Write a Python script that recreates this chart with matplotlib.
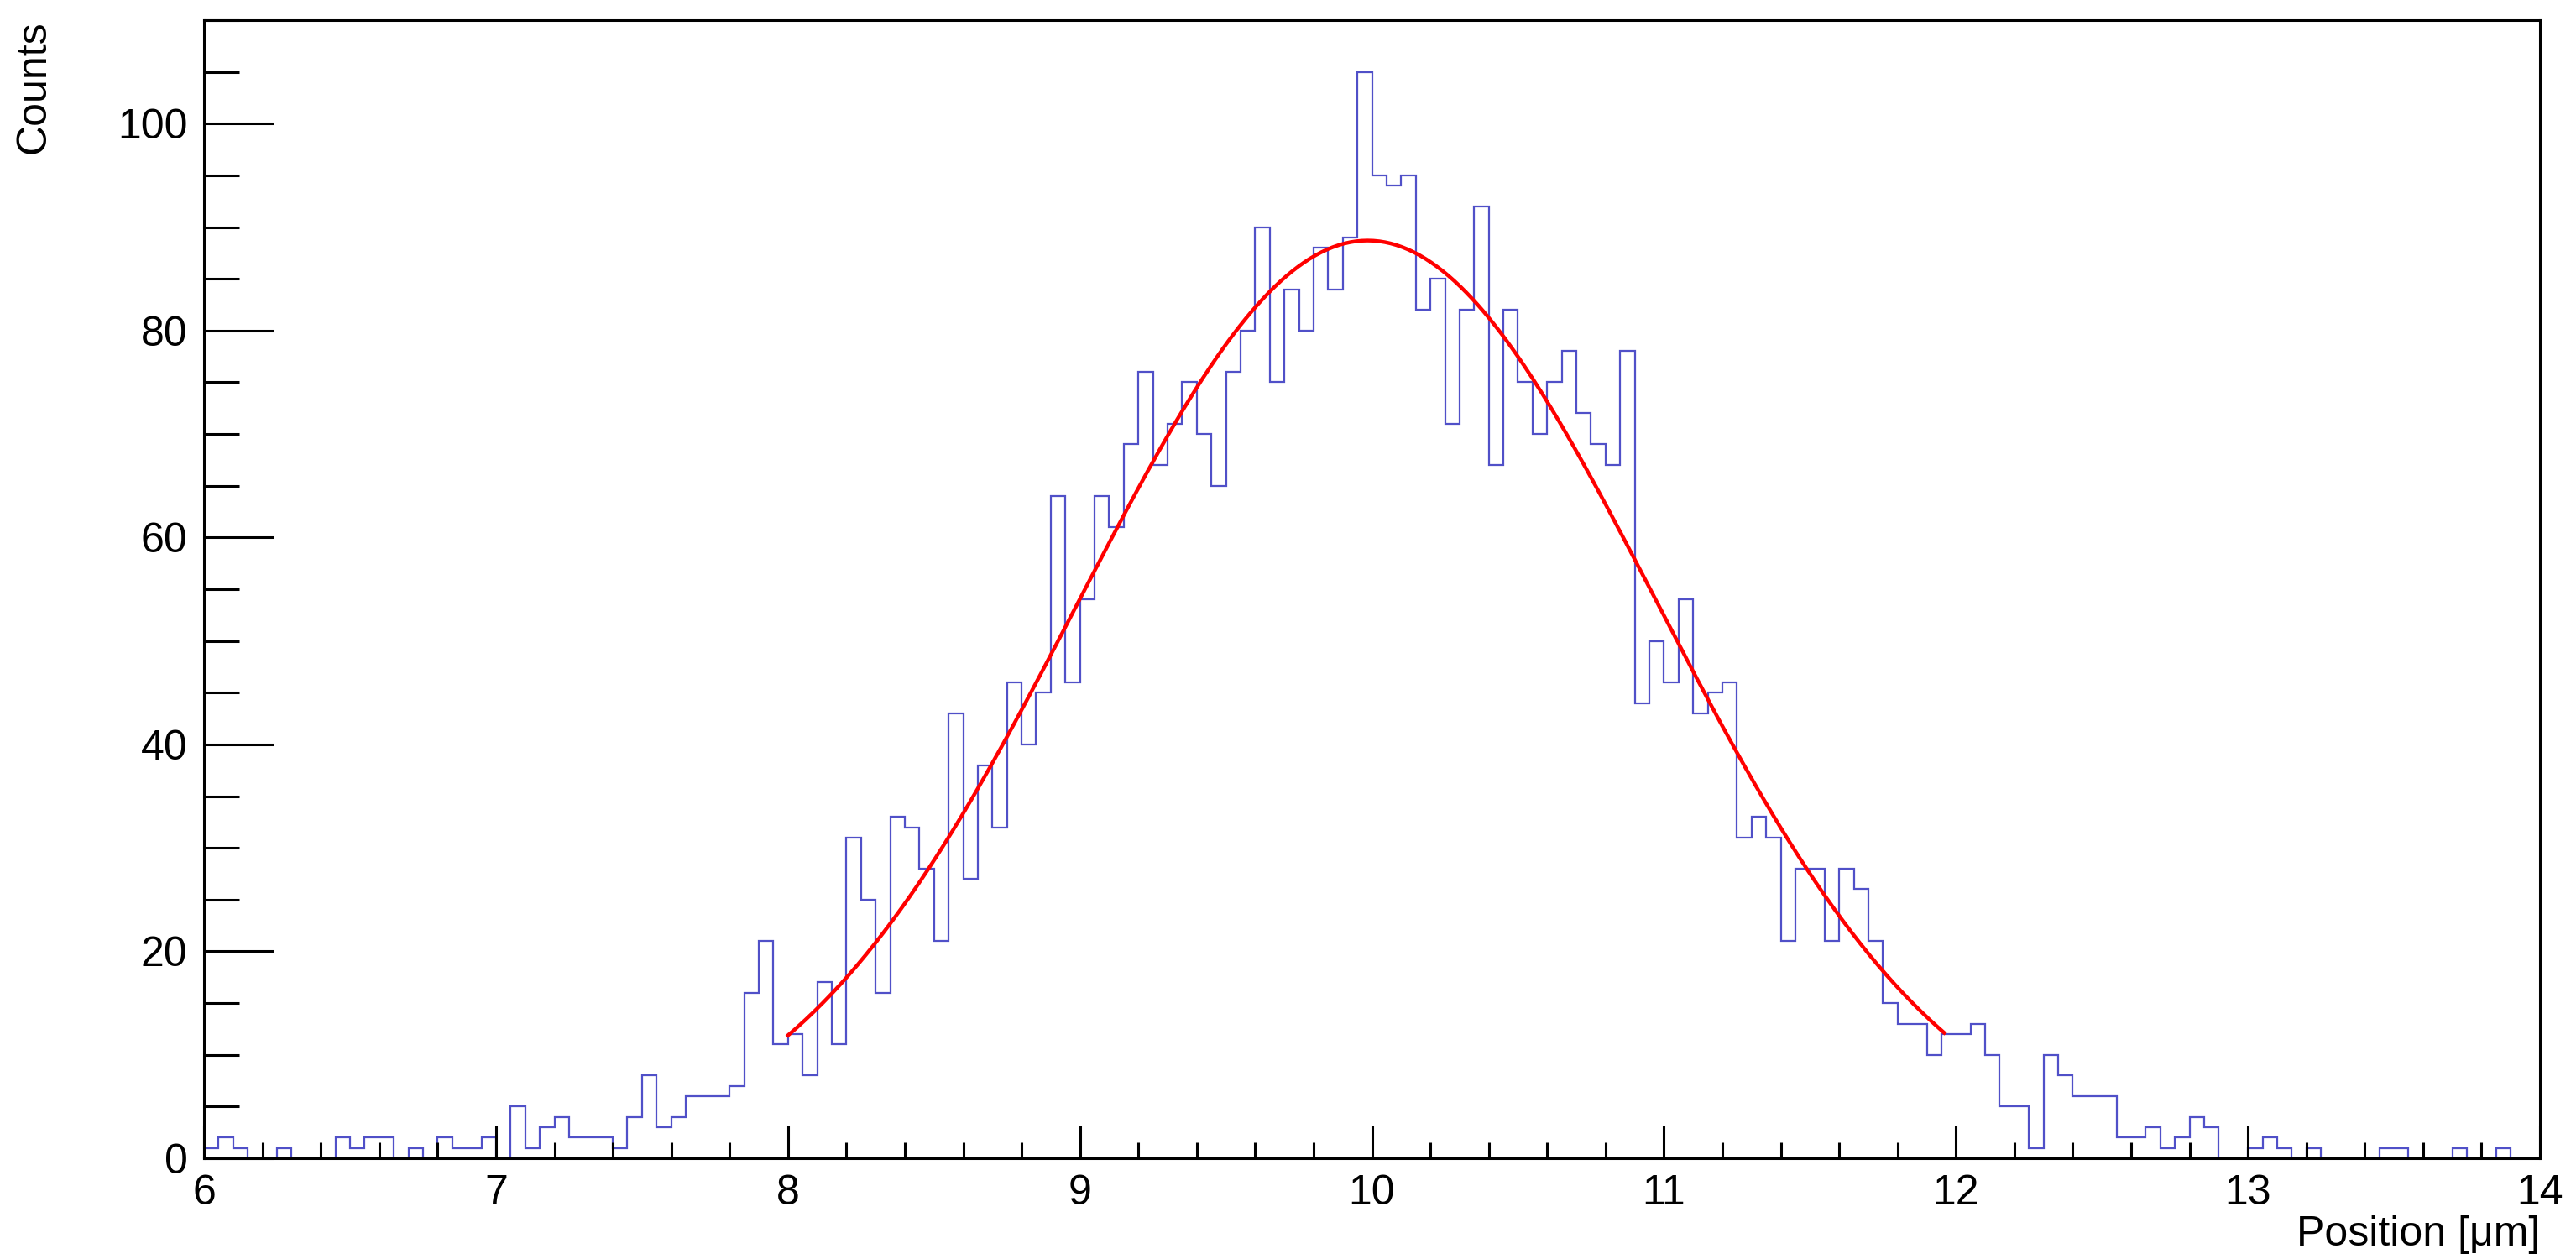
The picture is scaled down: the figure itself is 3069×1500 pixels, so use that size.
import matplotlib
matplotlib.use("Agg")
import matplotlib.pyplot as plt
import numpy as np
from matplotlib.ticker import MultipleLocator

plt.rcParams['font.family'] = ['Liberation Sans', 'DejaVu Sans']

# histogram: 160 bins of 0.05 from 6 to 14
x_min, x_max, n_bins = 6.0, 14.0, 160
counts = [
    1, 2, 1, 0, 0, 1, 0, 0, 0, 2, 1, 2, 2, 0, 1, 0, 2, 1, 1, 2,          # 6.0-7.0
    0, 5, 1, 3, 4, 2, 2, 2, 1, 4, 8, 3, 4, 6, 6, 6, 7, 16, 21, 11,       # 7.0-8.0
    12, 8, 17, 11, 31, 25, 16, 33, 32, 28, 21, 43, 27, 38, 32, 46, 40, 45, 64, 46,  # 8.0-9.0
    54, 64, 61, 69, 76, 67, 71, 75, 70, 65, 76, 80, 90, 75, 84, 80, 88, 84, 89, 105,  # 9.0-10.0
    95, 94, 95, 82, 85, 71, 82, 92, 67, 82, 75, 70, 75, 78, 72, 69, 67, 78, 44, 50,   # 10.0-11.0
    46, 54, 43, 45, 46, 31, 33, 31, 21, 28, 28, 21, 28, 26, 21, 15, 13, 13, 10, 12,   # 11.0-12.0
    12, 13, 10, 5, 5, 1, 10, 8, 6, 6, 6, 2, 2, 3, 1, 2, 4, 3, 0, 0,      # 12.0-13.0
    1, 2, 1, 0, 1, 0, 0, 0, 0, 1, 1, 0, 0, 0, 1, 0, 0, 1, 0, 0,          # 13.0-14.0
]

# gaussian fit result, drawn over its fit range
fit_amp, fit_mean, fit_sigma = 88.7, 9.985, 0.99
fit_range = (8.0, 11.96)

edges = np.linspace(x_min, x_max, n_bins + 1)

fig = plt.figure(figsize=(30.69, 15), dpi=100)
ax = fig.add_axes([0.0792, 0.08, 0.9068, 0.904])

ax.stairs(counts, edges, color='#5050c8', linewidth=1.6, baseline=None)

xf = np.linspace(fit_range[0], fit_range[1], 400)
ax.plot(xf, fit_amp * np.exp(-0.5 * ((xf - fit_mean) / fit_sigma) ** 2),
        color='#ff0000', linewidth=3.2)

ax.set_xlim(x_min, x_max)
ax.set_ylim(0, 110)

ax.xaxis.set_major_locator(MultipleLocator(1))
ax.xaxis.set_minor_locator(MultipleLocator(0.2))
ax.yaxis.set_major_locator(MultipleLocator(20))
ax.yaxis.set_minor_locator(MultipleLocator(5))

ax.tick_params(axis='both', which='both', direction='in', width=2.2, labelsize=36,
               top=False, right=False)
ax.tick_params(axis='x', which='major', length=28, pad=14)
ax.tick_params(axis='x', which='minor', length=14)
ax.tick_params(axis='y', which='major', length=60, pad=14)
ax.tick_params(axis='y', which='minor', length=30)

for s in ax.spines.values():
    s.set_linewidth(2.2)

ax.set_xlabel('Position [μm]', fontsize=36, loc='right', labelpad=2)
ax.set_ylabel('Counts', fontsize=36, loc='top', labelpad=55)

fig.savefig('out.png', dpi=100)
